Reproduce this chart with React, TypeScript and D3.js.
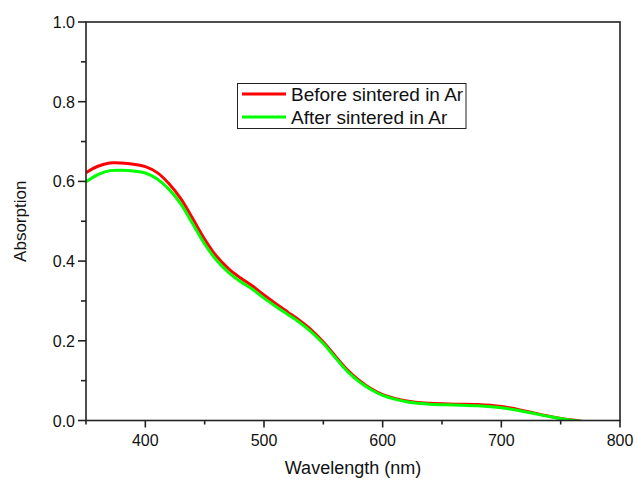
import React from "react";
import * as d3 from "d3";

const wavelengths = [350, 360, 370, 380, 390, 400, 410, 420, 430, 440, 450, 460, 470, 480, 490, 500, 510, 520, 530, 540, 550, 560, 570, 580, 590, 600, 620, 640, 660, 680, 700, 720, 740, 760, 770];
const before = [0.622, 0.638, 0.646, 0.646, 0.643, 0.637, 0.622, 0.594, 0.556, 0.506, 0.455, 0.412, 0.381, 0.358, 0.338, 0.315, 0.293, 0.272, 0.251, 0.227, 0.197, 0.162, 0.128, 0.101, 0.08, 0.065, 0.049, 0.043, 0.041, 0.04, 0.035, 0.024, 0.011, 0.001, -0.003];
const after = [0.599, 0.617, 0.627, 0.628, 0.626, 0.621, 0.606, 0.58, 0.543, 0.493, 0.443, 0.402, 0.372, 0.349, 0.33, 0.307, 0.286, 0.266, 0.246, 0.222, 0.193, 0.158, 0.124, 0.098, 0.078, 0.063, 0.047, 0.041, 0.039, 0.037, 0.032, 0.022, 0.01, 0.0, -0.003];
const seriesNames = ["Before sintered in Ar", "After sintered in Ar"];
const seriesColors = ["#ff0000", "#00ff00"];
const xTicks = [400, 500, 600, 700, 800];
const xMinor = [350, 450, 550, 650, 750];
const yTicks = [0, 0.2, 0.4, 0.6, 0.8, 1.0];
const yMinor = [0.1, 0.3, 0.5, 0.7, 0.9];

const W = 637, H = 481;
const L = 86, R = 620, T = 22, B = 420.5;

export default function App() {
  const x = d3.scaleLinear().domain([350, 800]).range([L, R]);
  const y = d3.scaleLinear().domain([0, 1]).range([B, T]);
  const line = d3
    .line<number>()
    .x((_, i) => x(wavelengths[i]))
    .y((d) => y(d))
    .curve(d3.curveCatmullRom.alpha(0.5));
  const font = "'Liberation Sans', Arial, sans-serif";
  const axisColor = "#222";
  const series = [before, after];
  return (
    <svg width={W} height={H} style={{ position: "absolute", left: 0, top: 0, background: "#fff" }} fontFamily={font}>
      <defs>
        <clipPath id="plot">
          <rect x={L} y={T} width={R - L} height={B - T} />
        </clipPath>
      </defs>
      <rect width={W} height={H} fill="#fff" />
      <g clipPath="url(#plot)">
        {series.map((s, i) => (
          <path key={i} d={line(s) || ""} fill="none" stroke={seriesColors[i]} strokeWidth={3} strokeLinejoin="round" />
        ))}
      </g>
      <rect x={L} y={T} width={R - L} height={B - T} fill="none" stroke={axisColor} strokeWidth={1.6} />
      {xTicks.map((t) => (
        <g key={"x" + t}>
          <line x1={x(t)} x2={x(t)} y1={B} y2={B + 7} stroke={axisColor} strokeWidth={1.6} />
          <text x={x(t)} y={B + 25} textAnchor="middle" fontSize={16} fill="#111">{t}</text>
        </g>
      ))}
      {xMinor.map((t) => (
        <line key={"xm" + t} x1={x(t)} x2={x(t)} y1={B} y2={B + 4} stroke={axisColor} strokeWidth={1.6} />
      ))}
      {yTicks.map((t) => (
        <g key={"y" + t}>
          <line x1={L - 8} x2={L} y1={y(t)} y2={y(t)} stroke={axisColor} strokeWidth={1.6} />
          <text x={L - 11} y={y(t) + 6} textAnchor="end" fontSize={16} fill="#111">{t.toFixed(1)}</text>
        </g>
      ))}
      {yMinor.map((t) => (
        <line key={"ym" + t} x1={L - 5} x2={L} y1={y(t)} y2={y(t)} stroke={axisColor} strokeWidth={1.6} />
      ))}
      <text x={(L + R) / 2} y={474} textAnchor="middle" fontSize={18} fill="#111">Wavelength (nm)</text>
      <text transform={`translate(26, ${(T + B) / 2}) rotate(-90)`} textAnchor="middle" fontSize={17} fill="#111">Absorption</text>
      <g>
        <rect x={237.5} y={83.5} width={228.5} height={45} fill="#fff" stroke="#222" strokeWidth={1} />
        {seriesNames.map((n, i) => (
          <g key={n}>
            <line x1={242} x2={286} y1={94 + i * 23} y2={94 + i * 23} stroke={seriesColors[i]} strokeWidth={3} />
            <text x={291} y={101 + i * 23} fontSize={19} fill="#111">{n}</text>
          </g>
        ))}
      </g>
    </svg>
  );
}
